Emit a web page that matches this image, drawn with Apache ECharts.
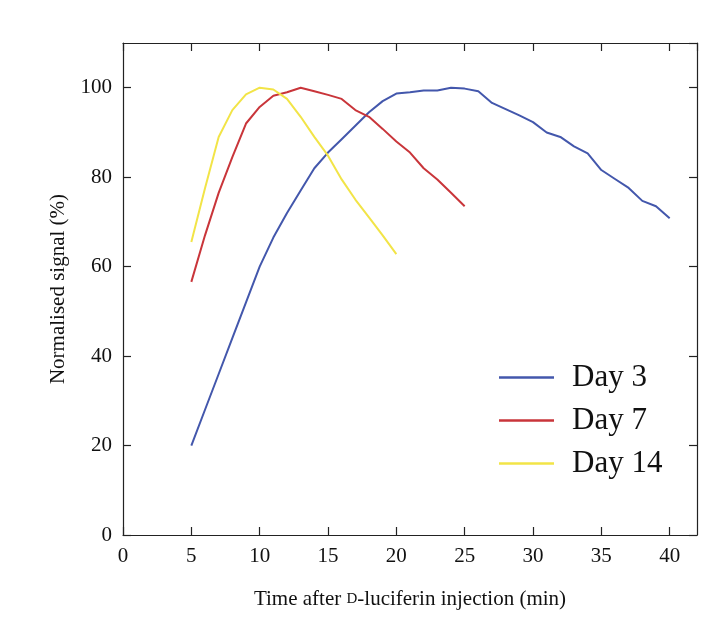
<!DOCTYPE html>
<html><head><meta charset="utf-8">
<script src="https://cdn.jsdelivr.net/npm/echarts@6/dist/echarts.min.js"></script>
<style>html,body{margin:0;padding:0;background:#fff}#c{width:712px;height:622px}</style>
</head><body><div id="c"></div>
<script>
const day3X = [5,6,7,8,9,10,11,12,13,14,15,16,17,18,19,20,21,22,23,24,25,26,27,28,29,30,31,32,33,34,35,36,37,38,39,40];
const day3Y = [20,28,36,44,52,60,66.5,72,77,82,85.5,88.5,91.5,94.5,97,98.7,99,99.4,99.4,100,99.8,99.2,96.6,95.2,93.8,92.3,90,89,86.9,85.3,81.6,79.6,77.6,74.7,73.5,70.8];
const day7X = [5,6,7,8,9,10,11,12,13,14,15,16,17,18,19,20,21,22,23,24,25];
const day7Y = [56.6,67,76.5,84.5,92,95.7,98.2,99,100,99.2,98.4,97.5,95,93.5,90.8,88,85.5,82,79.5,76.5,73.5];
const day14X = [5,6,7,8,9,10,11,12,13,14,15,16,17,18,19,20];
const day14Y = [65.5,77.5,89,95,98.5,100,99.6,97.5,93.5,89,84.8,79.5,75,71,67,62.8];
const seriesNames = ['Day 3','Day 7','Day 14'];
const colors = ['#4357ac','#c9353a','#f2e447'];
const xTicks = [0,5,10,15,20,25,30,35,40];
const yTicks = [0,20,40,60,80,100];

const zip = (xs, ys) => xs.map((x,i)=>[x, ys[i]]);
const font = 'Liberation Serif';
const axisCommon = () => ({
  axisLine:{show:true, onZero:false, lineStyle:{color:'#222', width:1.2}},
  axisTick:{show:true, inside:true, length:8, lineStyle:{color:'#222', width:1.2}},
  splitLine:{show:false}
});
const chart = echarts.init(document.getElementById('c'));
chart.setOption({
  backgroundColor:'#fff',
  animation:false,
  grid:{left:123, top:43, right:15, bottom:87},
  legend:{
    orient:'vertical', left:494, top:357, itemGap:12,
    itemWidth:55, itemHeight:2.5, icon:'rect',
    textStyle:{fontFamily:font, fontSize:31, color:'#111', padding:[0,0,0,13]},
    data: seriesNames
  },
  xAxis:[
    Object.assign({type:'value', min:0, max:42, interval:5, position:'bottom',
      axisLabel:{fontFamily:font, fontSize:21, color:'#111', margin:11, showMaxLabel:false,
        formatter:v=> xTicks.includes(v) ? String(v) : ''},
      name:'{n|Time after }{s|D}{n|-luciferin injection (min)}', nameLocation:'middle', nameGap:54,
      nameTextStyle:{rich:{n:{fontFamily:font, fontSize:21, color:'#111'}, s:{fontFamily:font, fontSize:15, color:'#111'}}}
    }, axisCommon()),
    Object.assign({type:'value', min:0, max:42, interval:5, position:'top', axisLabel:{show:false}}, axisCommon())
  ],
  yAxis:[
    Object.assign({type:'value', min:0, max:110, interval:20, position:'left',
      axisLabel:{fontFamily:font, fontSize:21, color:'#111', margin:11, showMaxLabel:false,
        formatter:v=> yTicks.includes(v) ? String(v) : ''},
      name:'Normalised signal (%)', nameLocation:'middle', nameGap:54,
      nameTextStyle:{fontFamily:font, fontSize:21, color:'#111'}
    }, axisCommon()),
    Object.assign({type:'value', min:0, max:110, interval:20, position:'right', axisLabel:{show:false}}, axisCommon())
  ],
  series: [
    {name:seriesNames[0], type:'line', data:zip(day3X, day3Y)},
    {name:seriesNames[1], type:'line', data:zip(day7X, day7Y)},
    {name:seriesNames[2], type:'line', data:zip(day14X, day14Y)}
  ].map((s,i)=>Object.assign(s,{showSymbol:false, symbol:'none', color:colors[i], lineStyle:{width:2, color:colors[i]}}))
});
</script></body></html>
